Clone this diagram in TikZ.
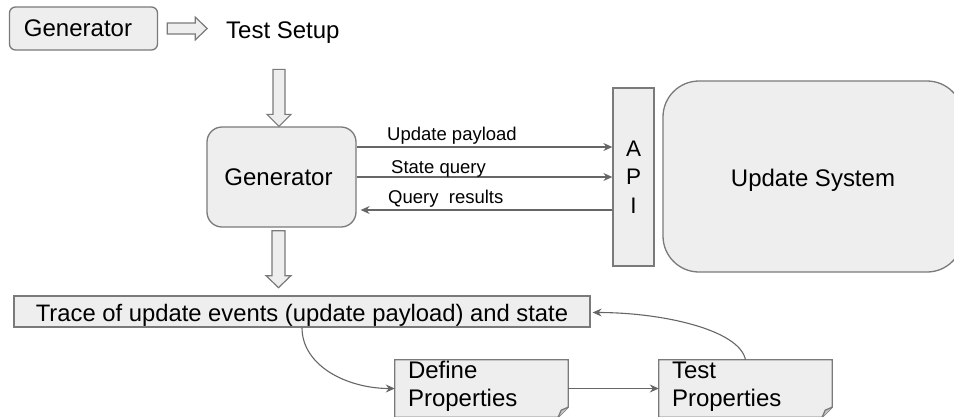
\documentclass[tikz,border=0pt]{standalone}
\usepackage{fontspec}
\setmainfont{Liberation Sans}
\usetikzlibrary{arrows.meta,calc,backgrounds}
\definecolor{boxfill}{HTML}{EEEEEE}
\definecolor{boxline}{HTML}{7A7A7A}
\definecolor{arrline}{HTML}{666666}
\begin{document}
\begin{tikzpicture}[x=1pt,y=-1pt,
  box/.style={draw=boxline, fill=boxfill, line width=1.3pt, inner sep=0pt},
  big/.style={font=\fontsize{24}{28}\selectfont},
  lab/.style={font=\fontsize{18.5}{22}\selectfont, inner sep=0pt, anchor=base west},
  conn/.style={draw=arrline, line width=1.1pt, -{Stealth[length=9pt,width=8pt,inset=3pt]}},
  hollow/.style={draw=boxline, fill=boxfill, line width=1.2pt, line join=miter},
  notebox/.style={draw=boxline, fill=boxfill, line width=1.3pt, line join=miter},
  ghost/.style={draw=none, inner sep=0pt}]
\useasboundingbox (0,0) rectangle (954,416);
\clip (0,0) rectangle (954,416);

% top row
\node[box, big, rounded corners=6, minimum width=148, minimum height=43] (gen0) at (83.5,28.5) {Generator\hspace*{11pt}};
\node[big, inner sep=0pt, anchor=base west] (setup) at (226,38.5) {Test Setup};
\draw[hollow, shift={(gen0.east)}] (9,-5.5) -- (37,-5.5) -- (37,-11.5) -- (49,0) -- (37,11.5) -- (37,5.5) -- (9,5.5) -- cycle;

% generator
\node[box, big, rounded corners=15, minimum width=149, minimum height=100] (gen) at (281.5,177) {Generator\hspace*{6pt}};
\draw[hollow, shift={(gen.north)}] (-8.5,-57) -- (3.5,-57) -- (3.5,-12) -- (9.5,-12) -- (-2.5,0) -- (-14.5,-12) -- (-8.5,-12) -- cycle;

% API and update system
\node[box, minimum width=41, minimum height=178, align=center, font=\fontsize{22.5}{28.5}\selectfont] (api) at (633.5,177) {A\\P\\I};
\node[box, rounded corners=36, minimum width=300, minimum height=191] (upd) at (813,176.5) {};
\node[big, inner sep=0pt, anchor=base] (updtext) at ($(upd.center)+(0,9.5)$) {Update System};

% connectors generator <-> API
\draw[conn] (gen.east |- 0,147) -- (api.west |- 0,147);
\draw[conn] (gen.east |- 0,177) -- (api.west |- 0,177);
\draw[conn] (api.west |- 0,210) -- ($(gen.east |- 0,210)+(4,0)$);
\node[lab] (l1) at (387,140) {Update payload};
\node[lab] (l2) at (391,173) {State query};
\node[lab] (l3) at (388,203) {Query\ \ results};

% trace
\node[box, minimum width=576, minimum height=31] (trace) at (302,311.5) {};
\node[inner sep=0pt, anchor=base, font=\fontsize{23.8}{28}\selectfont] (tracetext) at ($(trace.center)+(0,9.5)$) {Trace of update events (update payload) and state};
\draw[hollow, shift={(gen.south)}] (-9.5,3) -- (3.5,3) -- (3.5,48) -- (9.5,48) -- (-3,60) -- (-15.5,48) -- (-9.5,48) -- cycle;

% notes
\node[ghost, minimum width=173, minimum height=57] (def) at (481.5,388.5) {};
\node[ghost, minimum width=173, minimum height=57] (test) at (745.5,388.5) {};
\begin{scope}[on background layer]
\foreach \n in {def,test}{
  \draw[notebox] (\n.north west) -- (\n.north east) -- ($(\n.south east)+(0,-10)$) -- ($(\n.south east)+(-10,0)$) -- (\n.south west) -- cycle;
  \draw[notebox, fill=boxfill!85!black] ($(\n.south east)+(0,-10)$) -- ($(\n.south east)+(-7,-7)$) -- ($(\n.south east)+(-10,0)$);
}
\end{scope}
\node[big, inner sep=0pt, align=left, anchor=west] (deftext) at ($(def.west)+(13,-2)$) {Define\\Properties};
\node[big, inner sep=0pt, align=left, anchor=west] (testtext) at ($(test.west)+(13,-2)$) {Test\\Properties};

\draw[conn] (def.east) -- (test.west);
\draw[conn] (trace.south) .. controls +(0,38) and +(-48,0) .. (def.west);
\draw[conn] (test.north) .. controls +(-6,-30) and +(70,0) .. ($(trace.east)+(2,1)$);
\end{tikzpicture}
\end{document}
